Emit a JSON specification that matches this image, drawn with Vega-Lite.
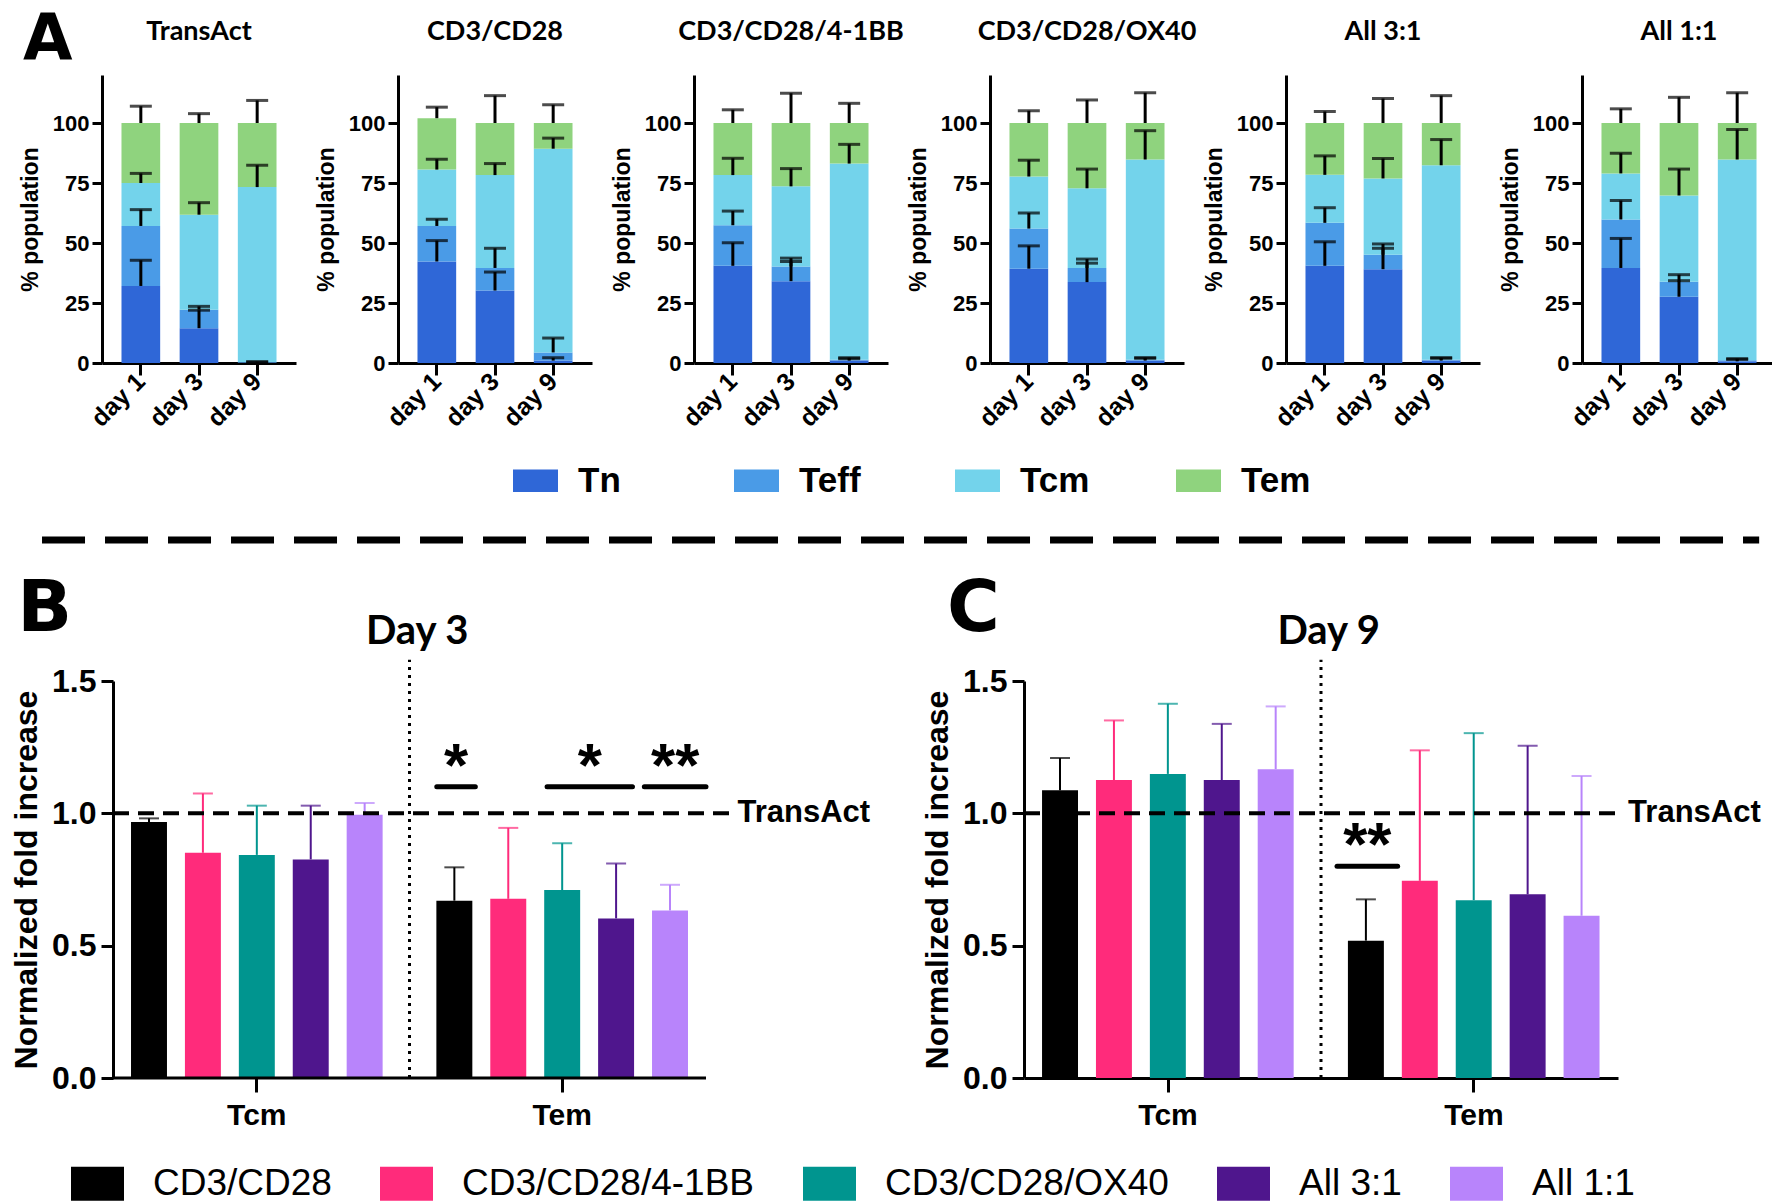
{
"$schema":"https://vega.github.io/schema/vega-lite/v6.json",
"background":"white",
"padding":{"left":10,"top":9,"right":0,"bottom":0},
"config":{"view":{"stroke":null},
"axis":{"grid":false,"domainColor":"black","domainWidth":3,"tickColor":"black","tickWidth":3,"labelColor":"black","titleColor":"black","labelFont":"Liberation Sans","labelFontWeight":"bold","titleFont":"Liberation Sans","titleFontWeight":"bold"},
"legend":{"padding":0}},
"datasets":{
"popA":[
{"panel":"TransAct","day":"day 1","subset":"Tn","pct":32.1,"sd":10.7},
{"panel":"TransAct","day":"day 1","subset":"Teff","pct":25.0,"sd":6.8},
{"panel":"TransAct","day":"day 1","subset":"Tcm","pct":17.9,"sd":4.0},
{"panel":"TransAct","day":"day 1","subset":"Tem","pct":25.0,"sd":7.0},
{"panel":"TransAct","day":"day 3","subset":"Tn","pct":14.5,"sd":7.5},
{"panel":"TransAct","day":"day 3","subset":"Teff","pct":7.7,"sd":1.4},
{"panel":"TransAct","day":"day 3","subset":"Tcm","pct":39.6,"sd":5.0},
{"panel":"TransAct","day":"day 3","subset":"Tem","pct":38.2,"sd":3.9},
{"panel":"TransAct","day":"day 9","subset":"Tn","pct":0.2,"sd":0.2},
{"panel":"TransAct","day":"day 9","subset":"Teff","pct":0.1,"sd":0.2},
{"panel":"TransAct","day":"day 9","subset":"Tcm","pct":73.0,"sd":9.1},
{"panel":"TransAct","day":"day 9","subset":"Tem","pct":26.7,"sd":9.4},
{"panel":"CD3/CD28","day":"day 1","subset":"Tn","pct":42.3,"sd":8.7},
{"panel":"CD3/CD28","day":"day 1","subset":"Teff","pct":14.8,"sd":2.8},
{"panel":"CD3/CD28","day":"day 1","subset":"Tcm","pct":23.5,"sd":4.3},
{"panel":"CD3/CD28","day":"day 1","subset":"Tem","pct":21.4,"sd":4.6},
{"panel":"CD3/CD28","day":"day 3","subset":"Tn","pct":30.2,"sd":7.7},
{"panel":"CD3/CD28","day":"day 3","subset":"Teff","pct":9.4,"sd":8.2},
{"panel":"CD3/CD28","day":"day 3","subset":"Tcm","pct":38.7,"sd":4.8},
{"panel":"CD3/CD28","day":"day 3","subset":"Tem","pct":21.7,"sd":11.4},
{"panel":"CD3/CD28","day":"day 9","subset":"Tn","pct":1.0,"sd":1.2},
{"panel":"CD3/CD28","day":"day 9","subset":"Teff","pct":3.4,"sd":6.0},
{"panel":"CD3/CD28","day":"day 9","subset":"Tcm","pct":84.9,"sd":4.4},
{"panel":"CD3/CD28","day":"day 9","subset":"Tem","pct":10.7,"sd":7.6},
{"panel":"CD3/CD28/4-1BB","day":"day 1","subset":"Tn","pct":40.5,"sd":9.6},
{"panel":"CD3/CD28/4-1BB","day":"day 1","subset":"Teff","pct":16.9,"sd":5.9},
{"panel":"CD3/CD28/4-1BB","day":"day 1","subset":"Tcm","pct":20.9,"sd":7.0},
{"panel":"CD3/CD28/4-1BB","day":"day 1","subset":"Tem","pct":21.7,"sd":5.5},
{"panel":"CD3/CD28/4-1BB","day":"day 3","subset":"Tn","pct":34.1,"sd":8.2},
{"panel":"CD3/CD28/4-1BB","day":"day 3","subset":"Teff","pct":6.1,"sd":3.5},
{"panel":"CD3/CD28/4-1BB","day":"day 3","subset":"Tcm","pct":33.4,"sd":7.4},
{"panel":"CD3/CD28/4-1BB","day":"day 3","subset":"Tem","pct":26.4,"sd":12.4},
{"panel":"CD3/CD28/4-1BB","day":"day 9","subset":"Tn","pct":1.0,"sd":0.8},
{"panel":"CD3/CD28/4-1BB","day":"day 9","subset":"Teff","pct":0.4,"sd":0.8},
{"panel":"CD3/CD28/4-1BB","day":"day 9","subset":"Tcm","pct":81.7,"sd":8.0},
{"panel":"CD3/CD28/4-1BB","day":"day 9","subset":"Tem","pct":16.9,"sd":8.2},
{"panel":"CD3/CD28/OX40","day":"day 1","subset":"Tn","pct":39.3,"sd":9.5},
{"panel":"CD3/CD28/OX40","day":"day 1","subset":"Teff","pct":16.7,"sd":6.5},
{"panel":"CD3/CD28/OX40","day":"day 1","subset":"Tcm","pct":21.7,"sd":6.8},
{"panel":"CD3/CD28/OX40","day":"day 1","subset":"Tem","pct":22.3,"sd":5.1},
{"panel":"CD3/CD28/OX40","day":"day 3","subset":"Tn","pct":33.7,"sd":7.9},
{"panel":"CD3/CD28/OX40","day":"day 3","subset":"Teff","pct":5.9,"sd":3.7},
{"panel":"CD3/CD28/OX40","day":"day 3","subset":"Tcm","pct":33.2,"sd":8.0},
{"panel":"CD3/CD28/OX40","day":"day 3","subset":"Tem","pct":27.2,"sd":9.6},
{"panel":"CD3/CD28/OX40","day":"day 9","subset":"Tn","pct":1.0,"sd":1.0},
{"panel":"CD3/CD28/OX40","day":"day 9","subset":"Teff","pct":0.4,"sd":0.8},
{"panel":"CD3/CD28/OX40","day":"day 9","subset":"Tcm","pct":83.4,"sd":12.0},
{"panel":"CD3/CD28/OX40","day":"day 9","subset":"Tem","pct":15.2,"sd":12.6},
{"panel":"All 3:1","day":"day 1","subset":"Tn","pct":40.5,"sd":10.0},
{"panel":"All 3:1","day":"day 1","subset":"Teff","pct":17.9,"sd":6.3},
{"panel":"All 3:1","day":"day 1","subset":"Tcm","pct":20.0,"sd":7.9},
{"panel":"All 3:1","day":"day 1","subset":"Tem","pct":21.6,"sd":4.8},
{"panel":"All 3:1","day":"day 3","subset":"Tn","pct":39.1,"sd":8.7},
{"panel":"All 3:1","day":"day 3","subset":"Teff","pct":6.0,"sd":4.5},
{"panel":"All 3:1","day":"day 3","subset":"Tcm","pct":31.8,"sd":8.3},
{"panel":"All 3:1","day":"day 3","subset":"Tem","pct":23.1,"sd":10.2},
{"panel":"All 3:1","day":"day 9","subset":"Tn","pct":1.0,"sd":1.0},
{"panel":"All 3:1","day":"day 9","subset":"Teff","pct":0.4,"sd":0.8},
{"panel":"All 3:1","day":"day 9","subset":"Tcm","pct":81.0,"sd":10.7},
{"panel":"All 3:1","day":"day 9","subset":"Tem","pct":17.6,"sd":11.4},
{"panel":"All 1:1","day":"day 1","subset":"Tn","pct":39.6,"sd":12.3},
{"panel":"All 1:1","day":"day 1","subset":"Teff","pct":20.2,"sd":7.9},
{"panel":"All 1:1","day":"day 1","subset":"Tcm","pct":19.2,"sd":8.4},
{"panel":"All 1:1","day":"day 1","subset":"Tem","pct":21.0,"sd":5.9},
{"panel":"All 1:1","day":"day 3","subset":"Tn","pct":27.6,"sd":6.7},
{"panel":"All 1:1","day":"day 3","subset":"Teff","pct":6.3,"sd":2.9},
{"panel":"All 1:1","day":"day 3","subset":"Tcm","pct":35.9,"sd":11.0},
{"panel":"All 1:1","day":"day 3","subset":"Tem","pct":30.2,"sd":10.7},
{"panel":"All 1:1","day":"day 9","subset":"Tn","pct":0.7,"sd":0.8},
{"panel":"All 1:1","day":"day 9","subset":"Teff","pct":0.4,"sd":0.7},
{"panel":"All 1:1","day":"day 9","subset":"Tcm","pct":83.7,"sd":12.5},
{"panel":"All 1:1","day":"day 9","subset":"Tem","pct":15.2,"sd":12.6}
],
"fold":[
{"day":"Day 3","cell":"Tcm","group":"CD3/CD28","mean":0.967,"sd":0.014},
{"day":"Day 3","cell":"Tcm","group":"CD3/CD28/4-1BB","mean":0.851,"sd":0.224},
{"day":"Day 3","cell":"Tcm","group":"CD3/CD28/OX40","mean":0.843,"sd":0.186},
{"day":"Day 3","cell":"Tcm","group":"All 3:1","mean":0.826,"sd":0.203},
{"day":"Day 3","cell":"Tcm","group":"All 1:1","mean":0.995,"sd":0.044},
{"day":"Day 3","cell":"Tem","group":"CD3/CD28","mean":0.670,"sd":0.126},
{"day":"Day 3","cell":"Tem","group":"CD3/CD28/4-1BB","mean":0.677,"sd":0.268},
{"day":"Day 3","cell":"Tem","group":"CD3/CD28/OX40","mean":0.710,"sd":0.177},
{"day":"Day 3","cell":"Tem","group":"All 3:1","mean":0.603,"sd":0.207},
{"day":"Day 3","cell":"Tem","group":"All 1:1","mean":0.633,"sd":0.097},
{"day":"Day 9","cell":"Tcm","group":"CD3/CD28","mean":1.087,"sd":0.122},
{"day":"Day 9","cell":"Tcm","group":"CD3/CD28/4-1BB","mean":1.126,"sd":0.225},
{"day":"Day 9","cell":"Tcm","group":"CD3/CD28/OX40","mean":1.149,"sd":0.265},
{"day":"Day 9","cell":"Tcm","group":"All 3:1","mean":1.126,"sd":0.212},
{"day":"Day 9","cell":"Tcm","group":"All 1:1","mean":1.167,"sd":0.237},
{"day":"Day 9","cell":"Tem","group":"CD3/CD28","mean":0.519,"sd":0.156},
{"day":"Day 9","cell":"Tem","group":"CD3/CD28/4-1BB","mean":0.745,"sd":0.493},
{"day":"Day 9","cell":"Tem","group":"CD3/CD28/OX40","mean":0.672,"sd":0.631},
{"day":"Day 9","cell":"Tem","group":"All 3:1","mean":0.694,"sd":0.561},
{"day":"Day 9","cell":"Tem","group":"All 1:1","mean":0.613,"sd":0.528}
]
},
"resolve":{"scale":{"color":"independent"},"legend":{"color":"independent"}},
"spacing":37,
"vconcat":[
{"bounds":"flush","spacing":102,"resolve":{"legend":{"color":"independent"}},
"hconcat":[
{"width":194,"height":288,"data":{"name":"popA"},
"resolve":{"axis":{"y":"independent"}},
"transform":[{"filter":"datum.panel === 'TransAct'"},{"calculate":"indexof(['Tn','Teff','Tcm','Tem'], datum.subset)","as":"k"}],
"encoding":{"x":{"field":"day","type":"nominal","sort":["day 1","day 3","day 9"],"scale":{"paddingInner":0.335,"paddingOuter":0.335},"axis":{"title":null,"tickSize":12,"labelAngle":-45,"labelAlign":"right","labelBaseline":"middle","labelFontSize":25,"labelPadding":2}}},
"layer":[
{"mark":{"type":"bar"},"encoding":{"y":{"field":"pct","type":"quantitative","stack":"zero","scale":{"domain":[0,120],"nice":false},"axis":{"title":"% population","values":[0,25,50,75,100],"tickSize":10,"labelFontSize":22,"labelPadding":3,"titleFontSize":23,"titlePadding":10}},"color":{"field":"subset","type":"nominal","scale":{"domain":["Tn","Teff","Tcm","Tem"],"range":["#2f67d7","#4a9be7","#73d3eb","#8fd37e"]},"legend":{"orient":"none","legendX":411,"legendY":383,"direction":"horizontal","columns":4,"title":null,"symbolType":"M-1,-0.5H1V0.5H-1Z","symbolSize":2025,"symbolStrokeWidth":0,"symbolOpacity":1,"labelFont":"Liberation Sans","labelFontWeight":"bold","labelFontSize":35,"labelColor":"black","labelOffset":20,"columnPadding":86,"gridAlign":"all","padding":0}},"order":{"field":"k","type":"quantitative"}}},
{"transform":[{"stack":"pct","groupby":["day"],"sort":[{"field":"k","order":"ascending"}],"as":["lo","hi"]},{"calculate":"datum.hi + datum.sd","as":"eh"}],
"layer":[
{"mark":{"type":"rule","color":"black","strokeWidth":3},"encoding":{"y":{"field":"hi","type":"quantitative","scale":{"domain":[0,120],"nice":false},"axis":null},"y2":{"field":"eh"}}},
{"mark":{"type":"tick","color":"black","thickness":3,"size":22},"encoding":{"y":{"field":"eh","type":"quantitative","scale":{"domain":[0,120],"nice":false},"axis":null}}}
]},
{"data":{"values":[{"t":"TransAct"}]},"mark":{"type":"text","font":"Lato","fontSize":27,"fontWeight":"bold","baseline":"alphabetic","align":"center","color":"black"},"encoding":{"x":{"datum":"day 3","type":"nominal"},"y":{"datum":134.4,"type":"quantitative","scale":{"domain":[0,120],"nice":false},"axis":null},"text":{"field":"t"}}},
{"data":{"values":[{"t":"A"}]},"mark":{"type":"text","font":"DejaVu Sans","fontSize":64,"fontWeight":"bold","baseline":"alphabetic","align":"center","color":"black","dx":-93},"encoding":{"x":{"datum":"day 1","type":"nominal"},"y":{"datum":126.25,"type":"quantitative","scale":{"domain":[0,120],"nice":false},"axis":null},"text":{"field":"t"}}}
]},
{"width":194,"height":288,"data":{"name":"popA"},
"resolve":{"axis":{"y":"independent"}},
"transform":[{"filter":"datum.panel === 'CD3/CD28'"},{"calculate":"indexof(['Tn','Teff','Tcm','Tem'], datum.subset)","as":"k"}],
"encoding":{"x":{"field":"day","type":"nominal","sort":["day 1","day 3","day 9"],"scale":{"paddingInner":0.335,"paddingOuter":0.335},"axis":{"title":null,"tickSize":12,"labelAngle":-45,"labelAlign":"right","labelBaseline":"middle","labelFontSize":25,"labelPadding":2}}},
"layer":[
{"mark":{"type":"bar"},"encoding":{"y":{"field":"pct","type":"quantitative","stack":"zero","scale":{"domain":[0,120],"nice":false},"axis":{"title":"% population","values":[0,25,50,75,100],"tickSize":10,"labelFontSize":22,"labelPadding":3,"titleFontSize":23,"titlePadding":10}},"color":{"field":"subset","type":"nominal","legend":null},"order":{"field":"k","type":"quantitative"}}},
{"transform":[{"stack":"pct","groupby":["day"],"sort":[{"field":"k","order":"ascending"}],"as":["lo","hi"]},{"calculate":"datum.hi + datum.sd","as":"eh"}],
"layer":[
{"mark":{"type":"rule","color":"black","strokeWidth":3},"encoding":{"y":{"field":"hi","type":"quantitative","scale":{"domain":[0,120],"nice":false},"axis":null},"y2":{"field":"eh"}}},
{"mark":{"type":"tick","color":"black","thickness":3,"size":22},"encoding":{"y":{"field":"eh","type":"quantitative","scale":{"domain":[0,120],"nice":false},"axis":null}}}
]},
{"data":{"values":[{"t":"CD3/CD28"}]},"mark":{"type":"text","font":"Lato","fontSize":27,"fontWeight":"bold","baseline":"alphabetic","align":"center","color":"black"},"encoding":{"x":{"datum":"day 3","type":"nominal"},"y":{"datum":134.4,"type":"quantitative","scale":{"domain":[0,120],"nice":false},"axis":null},"text":{"field":"t"}}}
]},
{"width":194,"height":288,"data":{"name":"popA"},
"resolve":{"axis":{"y":"independent"}},
"transform":[{"filter":"datum.panel === 'CD3/CD28/4-1BB'"},{"calculate":"indexof(['Tn','Teff','Tcm','Tem'], datum.subset)","as":"k"}],
"encoding":{"x":{"field":"day","type":"nominal","sort":["day 1","day 3","day 9"],"scale":{"paddingInner":0.335,"paddingOuter":0.335},"axis":{"title":null,"tickSize":12,"labelAngle":-45,"labelAlign":"right","labelBaseline":"middle","labelFontSize":25,"labelPadding":2}}},
"layer":[
{"mark":{"type":"bar"},"encoding":{"y":{"field":"pct","type":"quantitative","stack":"zero","scale":{"domain":[0,120],"nice":false},"axis":{"title":"% population","values":[0,25,50,75,100],"tickSize":10,"labelFontSize":22,"labelPadding":3,"titleFontSize":23,"titlePadding":10}},"color":{"field":"subset","type":"nominal","legend":null},"order":{"field":"k","type":"quantitative"}}},
{"transform":[{"stack":"pct","groupby":["day"],"sort":[{"field":"k","order":"ascending"}],"as":["lo","hi"]},{"calculate":"datum.hi + datum.sd","as":"eh"}],
"layer":[
{"mark":{"type":"rule","color":"black","strokeWidth":3},"encoding":{"y":{"field":"hi","type":"quantitative","scale":{"domain":[0,120],"nice":false},"axis":null},"y2":{"field":"eh"}}},
{"mark":{"type":"tick","color":"black","thickness":3,"size":22},"encoding":{"y":{"field":"eh","type":"quantitative","scale":{"domain":[0,120],"nice":false},"axis":null}}}
]},
{"data":{"values":[{"t":"CD3/CD28/4-1BB"}]},"mark":{"type":"text","font":"Lato","fontSize":27,"fontWeight":"bold","baseline":"alphabetic","align":"center","color":"black"},"encoding":{"x":{"datum":"day 3","type":"nominal"},"y":{"datum":134.4,"type":"quantitative","scale":{"domain":[0,120],"nice":false},"axis":null},"text":{"field":"t"}}}
]},
{"width":194,"height":288,"data":{"name":"popA"},
"resolve":{"axis":{"y":"independent"}},
"transform":[{"filter":"datum.panel === 'CD3/CD28/OX40'"},{"calculate":"indexof(['Tn','Teff','Tcm','Tem'], datum.subset)","as":"k"}],
"encoding":{"x":{"field":"day","type":"nominal","sort":["day 1","day 3","day 9"],"scale":{"paddingInner":0.335,"paddingOuter":0.335},"axis":{"title":null,"tickSize":12,"labelAngle":-45,"labelAlign":"right","labelBaseline":"middle","labelFontSize":25,"labelPadding":2}}},
"layer":[
{"mark":{"type":"bar"},"encoding":{"y":{"field":"pct","type":"quantitative","stack":"zero","scale":{"domain":[0,120],"nice":false},"axis":{"title":"% population","values":[0,25,50,75,100],"tickSize":10,"labelFontSize":22,"labelPadding":3,"titleFontSize":23,"titlePadding":10}},"color":{"field":"subset","type":"nominal","legend":null},"order":{"field":"k","type":"quantitative"}}},
{"transform":[{"stack":"pct","groupby":["day"],"sort":[{"field":"k","order":"ascending"}],"as":["lo","hi"]},{"calculate":"datum.hi + datum.sd","as":"eh"}],
"layer":[
{"mark":{"type":"rule","color":"black","strokeWidth":3},"encoding":{"y":{"field":"hi","type":"quantitative","scale":{"domain":[0,120],"nice":false},"axis":null},"y2":{"field":"eh"}}},
{"mark":{"type":"tick","color":"black","thickness":3,"size":22},"encoding":{"y":{"field":"eh","type":"quantitative","scale":{"domain":[0,120],"nice":false},"axis":null}}}
]},
{"data":{"values":[{"t":"CD3/CD28/OX40"}]},"mark":{"type":"text","font":"Lato","fontSize":27,"fontWeight":"bold","baseline":"alphabetic","align":"center","color":"black"},"encoding":{"x":{"datum":"day 3","type":"nominal"},"y":{"datum":134.4,"type":"quantitative","scale":{"domain":[0,120],"nice":false},"axis":null},"text":{"field":"t"}}}
]},
{"width":194,"height":288,"data":{"name":"popA"},
"resolve":{"axis":{"y":"independent"}},
"transform":[{"filter":"datum.panel === 'All 3:1'"},{"calculate":"indexof(['Tn','Teff','Tcm','Tem'], datum.subset)","as":"k"}],
"encoding":{"x":{"field":"day","type":"nominal","sort":["day 1","day 3","day 9"],"scale":{"paddingInner":0.335,"paddingOuter":0.335},"axis":{"title":null,"tickSize":12,"labelAngle":-45,"labelAlign":"right","labelBaseline":"middle","labelFontSize":25,"labelPadding":2}}},
"layer":[
{"mark":{"type":"bar"},"encoding":{"y":{"field":"pct","type":"quantitative","stack":"zero","scale":{"domain":[0,120],"nice":false},"axis":{"title":"% population","values":[0,25,50,75,100],"tickSize":10,"labelFontSize":22,"labelPadding":3,"titleFontSize":23,"titlePadding":10}},"color":{"field":"subset","type":"nominal","legend":null},"order":{"field":"k","type":"quantitative"}}},
{"transform":[{"stack":"pct","groupby":["day"],"sort":[{"field":"k","order":"ascending"}],"as":["lo","hi"]},{"calculate":"datum.hi + datum.sd","as":"eh"}],
"layer":[
{"mark":{"type":"rule","color":"black","strokeWidth":3},"encoding":{"y":{"field":"hi","type":"quantitative","scale":{"domain":[0,120],"nice":false},"axis":null},"y2":{"field":"eh"}}},
{"mark":{"type":"tick","color":"black","thickness":3,"size":22},"encoding":{"y":{"field":"eh","type":"quantitative","scale":{"domain":[0,120],"nice":false},"axis":null}}}
]},
{"data":{"values":[{"t":"All 3:1"}]},"mark":{"type":"text","font":"Lato","fontSize":27,"fontWeight":"bold","baseline":"alphabetic","align":"center","color":"black"},"encoding":{"x":{"datum":"day 3","type":"nominal"},"y":{"datum":134.4,"type":"quantitative","scale":{"domain":[0,120],"nice":false},"axis":null},"text":{"field":"t"}}}
]},
{"width":194,"height":288,"data":{"name":"popA"},
"resolve":{"axis":{"y":"independent"}},
"transform":[{"filter":"datum.panel === 'All 1:1'"},{"calculate":"indexof(['Tn','Teff','Tcm','Tem'], datum.subset)","as":"k"}],
"encoding":{"x":{"field":"day","type":"nominal","sort":["day 1","day 3","day 9"],"scale":{"paddingInner":0.335,"paddingOuter":0.335},"axis":{"title":null,"tickSize":12,"labelAngle":-45,"labelAlign":"right","labelBaseline":"middle","labelFontSize":25,"labelPadding":2}}},
"layer":[
{"mark":{"type":"bar"},"encoding":{"y":{"field":"pct","type":"quantitative","stack":"zero","scale":{"domain":[0,120],"nice":false},"axis":{"title":"% population","values":[0,25,50,75,100],"tickSize":10,"labelFontSize":22,"labelPadding":3,"titleFontSize":23,"titlePadding":10}},"color":{"field":"subset","type":"nominal","legend":null},"order":{"field":"k","type":"quantitative"}}},
{"transform":[{"stack":"pct","groupby":["day"],"sort":[{"field":"k","order":"ascending"}],"as":["lo","hi"]},{"calculate":"datum.hi + datum.sd","as":"eh"}],
"layer":[
{"mark":{"type":"rule","color":"black","strokeWidth":3},"encoding":{"y":{"field":"hi","type":"quantitative","scale":{"domain":[0,120],"nice":false},"axis":null},"y2":{"field":"eh"}}},
{"mark":{"type":"tick","color":"black","thickness":3,"size":22},"encoding":{"y":{"field":"eh","type":"quantitative","scale":{"domain":[0,120],"nice":false},"axis":null}}}
]},
{"data":{"values":[{"t":"All 1:1"}]},"mark":{"type":"text","font":"Lato","fontSize":27,"fontWeight":"bold","baseline":"alphabetic","align":"center","color":"black"},"encoding":{"x":{"datum":"day 3","type":"nominal"},"y":{"datum":134.4,"type":"quantitative","scale":{"domain":[0,120],"nice":false},"axis":null},"text":{"field":"t"}}}
]}
]},
{"bounds":"flush","spacing":318,"resolve":{"legend":{"color":"independent"}},
"hconcat":[
{"width":604,"height":397,
"resolve":{"scale":{"x":"independent"},"axis":{"y":"independent"}},
"layer":[
{"data":{"name":"fold"},
"resolve":{"axis":{"y":"independent"}},
"transform":[{"filter":"datum.day === 'Day 3'"},{"calculate":"datum.mean + datum.sd","as":"upper"}],
"encoding":{
"x":{"field":"cell","type":"nominal","sort":["Tcm","Tem"],"scale":{"paddingInner":0.176,"paddingOuter":0.077,"align":0.617},"axis":{"title":null,"domain":false,"labelAngle":0,"labelFontSize":30,"tickSize":14,"labelPadding":8}},
"xOffset":{"field":"group","type":"nominal","sort":["CD3/CD28","CD3/CD28/4-1BB","CD3/CD28/OX40","All 3:1","All 1:1"],"scale":{"paddingInner":0.333,"paddingOuter":0}},
"color":{"field":"group","type":"nominal","scale":{"domain":["CD3/CD28","CD3/CD28/4-1BB","CD3/CD28/OX40","All 3:1","All 1:1"],"range":["#000000","#ff2b7b","#00958f","#4f168d","#b884fb"]},"legend":{"orient":"none","legendX":-31,"legendY":476,"direction":"horizontal","columns":5,"title":null,"symbolType":"M-1,-0.64H1V0.64H-1Z","symbolSize":2809,"symbolStrokeWidth":0,"symbolOpacity":1,"labelFont":"Liberation Sans","labelFontSize":37,"labelColor":"black","labelOffset":29,"labelLimit":500,"columnPadding":48,"gridAlign":"each","padding":0}}
},
"layer":[
{"mark":{"type":"bar"},"encoding":{"y":{"field":"mean","type":"quantitative","scale":{"domain":[0,1.5],"nice":false},"axis":{"title":"Normalized fold increase","offset":-11,"values":[0,0.5,1,1.5],"format":".1f","labelFontSize":32,"tickSize":12,"labelPadding":5,"titleFontSize":32,"titlePadding":8}}}},
{"mark":{"type":"rule","strokeWidth":2},"encoding":{"y":{"field":"mean","type":"quantitative","scale":{"domain":[0,1.5],"nice":false},"axis":null},"y2":{"field":"upper"}}},
{"mark":{"type":"tick","thickness":2,"size":20},"encoding":{"y":{"field":"upper","type":"quantitative","scale":{"domain":[0,1.5],"nice":false},"axis":null}}}
]},
{"layer":[
{"data":{"values":[{}]},
"layer":[
{"mark":{"type":"rule","strokeWidth":3,"color":"black"},"encoding":{"x":{"datum":0,"type":"quantitative","scale":{"domain":[-0.01855,1],"nice":false,"zero":false},"axis":null},"x2":{"datum":1},"y":{"datum":0,"type":"quantitative","scale":{"domain":[0,1.5],"nice":false},"axis":null}}},
{"mark":{"type":"rule","strokeDash":[3,5],"strokeWidth":3,"color":"black"},"encoding":{"x":{"datum":0.5,"type":"quantitative","scale":{"domain":[-0.01855,1],"nice":false,"zero":false},"axis":null},"y":{"datum":0,"type":"quantitative","scale":{"domain":[0,1.5],"nice":false},"axis":null},"y2":{"datum":1.58}}},
{"mark":{"type":"rule","strokeDash":[16,9],"strokeWidth":4,"color":"black"},"encoding":{"x":{"datum":0,"type":"quantitative","scale":{"domain":[-0.01855,1],"nice":false,"zero":false},"axis":null},"x2":{"datum":1.039},"y":{"datum":1,"type":"quantitative","scale":{"domain":[0,1.5],"nice":false},"axis":null}}},
{"mark":{"type":"rule","strokeDash":[43,20],"strokeWidth":7,"color":"black"},"encoding":{"x":{"datum":-0.1197,"type":"quantitative","scale":{"domain":[-0.01855,1],"nice":false,"zero":false},"axis":null},"x2":{"datum":2.776},"y":{"datum":2.033,"type":"quantitative","scale":{"domain":[0,1.5],"nice":false},"axis":null}}},
{"mark":{"type":"text","align":"left","baseline":"middle","font":"Liberation Sans","fontWeight":"bold","fontSize":31,"color":"black"},"encoding":{"x":{"datum":1.053,"type":"quantitative","scale":{"domain":[-0.01855,1],"nice":false,"zero":false},"axis":null},"y":{"datum":1,"type":"quantitative","scale":{"domain":[0,1.5],"nice":false},"axis":null},"text":{"value":"TransAct"}}},
{"mark":{"type":"text","align":"center","baseline":"alphabetic","font":"Lato","fontWeight":"bold","fontSize":40,"color":"black"},"encoding":{"x":{"datum":0.513,"type":"quantitative","scale":{"domain":[-0.01855,1],"nice":false,"zero":false},"axis":null},"y":{"datum":1.64,"type":"quantitative","scale":{"domain":[0,1.5],"nice":false},"axis":null},"text":{"value":"Day 3"}}},
{"mark":{"type":"text","align":"center","baseline":"alphabetic","font":"DejaVu Sans","fontWeight":"bold","fontSize":72,"color":"black"},"encoding":{"x":{"datum":-0.115,"type":"quantitative","scale":{"domain":[-0.01855,1],"nice":false,"zero":false},"axis":null},"y":{"datum":1.69,"type":"quantitative","scale":{"domain":[0,1.5],"nice":false},"axis":null},"text":{"value":"B"}}}
]},
{"data":{"values":[{"x0":0.546,"x1":0.611,"y":1.1,"lab":"*"},{"x0":0.732,"x1":0.876,"y":1.1,"lab":"*"},{"x0":0.896,"x1":1.0,"y":1.1,"lab":"**"}]},
"layer":[
{"mark":{"type":"rule","strokeWidth":5,"strokeCap":"round","color":"black"},"encoding":{"x":{"field":"x0","type":"quantitative","scale":{"domain":[-0.01855,1],"nice":false,"zero":false},"axis":null},"x2":{"field":"x1"},"y":{"field":"y","type":"quantitative","scale":{"domain":[0,1.5],"nice":false},"axis":null}}},
{"transform":[{"calculate":"(datum.x0 + datum.x1) / 2","as":"xm"}],"mark":{"type":"text","align":"center","baseline":"alphabetic","font":"Liberation Sans","fontWeight":"bold","fontSize":62,"color":"black","dy":-1},"encoding":{"x":{"field":"xm","type":"quantitative","scale":{"domain":[-0.01855,1],"nice":false,"zero":false},"axis":null},"y":{"field":"y","type":"quantitative","scale":{"domain":[0,1.5],"nice":false},"axis":null},"text":{"field":"lab"}}}
]}
]}
]},
{"width":594,"height":397,
"resolve":{"scale":{"x":"independent"},"axis":{"y":"independent"}},
"layer":[
{"data":{"name":"fold"},
"resolve":{"axis":{"y":"independent"}},
"transform":[{"filter":"datum.day === 'Day 9'"},{"calculate":"datum.mean + datum.sd","as":"upper"}],
"encoding":{
"x":{"field":"cell","type":"nominal","sort":["Tcm","Tem"],"scale":{"paddingInner":0.176,"paddingOuter":0.059},"axis":{"title":null,"labelAngle":0,"labelFontSize":30,"tickSize":14,"labelPadding":8}},
"xOffset":{"field":"group","type":"nominal","sort":["CD3/CD28","CD3/CD28/4-1BB","CD3/CD28/OX40","All 3:1","All 1:1"],"scale":{"paddingInner":0.333,"paddingOuter":0}},
"color":{"field":"group","type":"nominal","legend":null}
},
"layer":[
{"mark":{"type":"bar"},"encoding":{"y":{"field":"mean","type":"quantitative","scale":{"domain":[0,1.5],"nice":false},"axis":{"title":"Normalized fold increase","values":[0,0.5,1,1.5],"format":".1f","labelFontSize":32,"tickSize":12,"labelPadding":5,"titleFontSize":32,"titlePadding":8}}}},
{"mark":{"type":"rule","strokeWidth":2},"encoding":{"y":{"field":"mean","type":"quantitative","scale":{"domain":[0,1.5],"nice":false},"axis":null},"y2":{"field":"upper"}}},
{"mark":{"type":"tick","thickness":2,"size":20},"encoding":{"y":{"field":"upper","type":"quantitative","scale":{"domain":[0,1.5],"nice":false},"axis":null}}}
]},
{"layer":[
{"data":{"values":[{}]},
"layer":[
{"mark":{"type":"rule","strokeDash":[3,5],"strokeWidth":3,"color":"black"},"encoding":{"x":{"datum":0.5,"type":"quantitative","scale":{"domain":[0,1],"nice":false,"zero":false},"axis":null},"y":{"datum":0,"type":"quantitative","scale":{"domain":[0,1.5],"nice":false},"axis":null},"y2":{"datum":1.58}}},
{"mark":{"type":"rule","strokeDash":[16,9],"strokeWidth":4,"color":"black"},"encoding":{"x":{"datum":0,"type":"quantitative","scale":{"domain":[0,1],"nice":false,"zero":false},"axis":null},"x2":{"datum":1.007},"y":{"datum":1,"type":"quantitative","scale":{"domain":[0,1.5],"nice":false},"axis":null}}},
{"mark":{"type":"text","align":"left","baseline":"middle","font":"Liberation Sans","fontWeight":"bold","fontSize":31,"color":"black"},"encoding":{"x":{"datum":1.017,"type":"quantitative","scale":{"domain":[0,1],"nice":false,"zero":false},"axis":null},"y":{"datum":1,"type":"quantitative","scale":{"domain":[0,1.5],"nice":false},"axis":null},"text":{"value":"TransAct"}}},
{"mark":{"type":"text","align":"center","baseline":"alphabetic","font":"Lato","fontWeight":"bold","fontSize":40,"color":"black"},"encoding":{"x":{"datum":0.513,"type":"quantitative","scale":{"domain":[0,1],"nice":false,"zero":false},"axis":null},"y":{"datum":1.64,"type":"quantitative","scale":{"domain":[0,1.5],"nice":false},"axis":null},"text":{"value":"Day 9"}}},
{"mark":{"type":"text","align":"center","baseline":"alphabetic","font":"DejaVu Sans","fontWeight":"bold","fontSize":72,"color":"black"},"encoding":{"x":{"datum":-0.085,"type":"quantitative","scale":{"domain":[0,1],"nice":false,"zero":false},"axis":null},"y":{"datum":1.69,"type":"quantitative","scale":{"domain":[0,1.5],"nice":false},"axis":null},"text":{"value":"C"}}}
]},
{"data":{"values":[{"x0":0.527,"x1":0.629,"y":0.8,"lab":"**"}]},
"layer":[
{"mark":{"type":"rule","strokeWidth":5,"strokeCap":"round","color":"black"},"encoding":{"x":{"field":"x0","type":"quantitative","scale":{"domain":[0,1],"nice":false,"zero":false},"axis":null},"x2":{"field":"x1"},"y":{"field":"y","type":"quantitative","scale":{"domain":[0,1.5],"nice":false},"axis":null}}},
{"transform":[{"calculate":"(datum.x0 + datum.x1) / 2","as":"xm"}],"mark":{"type":"text","align":"center","baseline":"alphabetic","font":"Liberation Sans","fontWeight":"bold","fontSize":62,"color":"black","dy":-1},"encoding":{"x":{"field":"xm","type":"quantitative","scale":{"domain":[0,1],"nice":false,"zero":false},"axis":null},"y":{"field":"y","type":"quantitative","scale":{"domain":[0,1.5],"nice":false},"axis":null},"text":{"field":"lab"}}}
]}
]}
]}
]}
]
}
